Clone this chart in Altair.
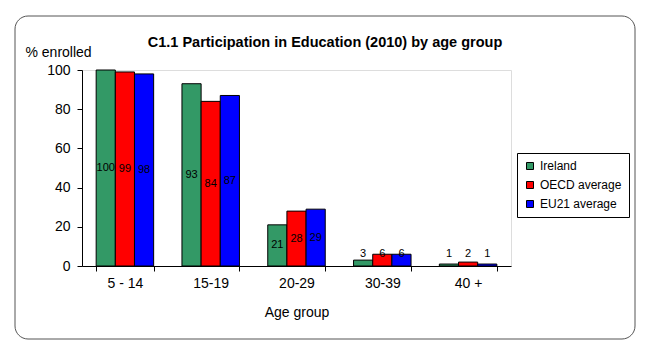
import altair as alt
import pandas as pd

age_groups = ["5 - 14", "15-19", "20-29", "30-39", "40 +"]
series_names = ["Ireland", "OECD average", "EU21  average"]
ireland = [100, 93, 21, 3, 1]
oecd = [99, 84, 28, 6, 2]
eu21 = [98, 87, 29, 6, 1]
colors = ["#339966", "#FF0000", "#0000FF"]
y_ticks = [0, 20, 40, 60, 80, 100]

rows = []
for s, vals in zip(series_names, [ireland, oecd, eu21]):
    for a, v in zip(age_groups, vals):
        rows.append({"age": a, "series": s, "value": v})
df = pd.DataFrame(rows)

FONT = "Arial, Liberation Sans, sans-serif"

x_axis = alt.Axis(labelAngle=0, tickBand="extent", labelFontSize=14,
                  titleFontSize=14, titleFontWeight="normal",
                  labelPadding=5, titlePadding=15, tickSize=5,
                  domainColor="black", tickColor="black",
                  labelColor="black", titleColor="black")
y_axis = alt.Axis(values=y_ticks, tickCount=6, grid=False,
                  labelOverlap=False, labelFlush=False,
                  labelFontSize=14, titleFontSize=14,
                  titleFontWeight="normal", titleAngle=0,
                  titleAlign="left", titleX=-57, titleY=-14,
                  titleBaseline="alphabetic", tickSize=5,
                  labelPadding=7, domainColor="black",
                  tickColor="black", labelColor="black",
                  titleColor="black")
x_scale = alt.Scale(paddingInner=0.33, paddingOuter=0.165)
y_scale = alt.Scale(domain=[0, 100], nice=False)
xoff = alt.XOffset("series:N", sort=series_names)

bars = alt.Chart(df).mark_bar(stroke="black", strokeWidth=1).encode(
    x=alt.X("age:N", sort=age_groups, title="Age group", scale=x_scale, axis=x_axis),
    xOffset=xoff,
    y=alt.Y("value:Q", scale=y_scale, title="% enrolled", axis=y_axis),
    color=alt.Color("series:N", sort=series_names,
                    scale=alt.Scale(domain=series_names, range=colors),
                    legend=alt.Legend(title=None, orient="none", legendX=435,
                                      legendY=83, symbolType="square",
                                      symbolSize=49, symbolStrokeColor="black",
                                      symbolStrokeWidth=1, labelFontSize=12,
                                      labelColor="black", strokeColor="black",
                                      fillColor="white", padding=7,
                                      rowPadding=7, labelOffset=4)),
)

labels = alt.Chart(df).transform_calculate(
    ly="max(datum.value / 2, 6)"
).mark_text(fontSize=11, color="black", baseline="middle", font=FONT).encode(
    x=alt.X("age:N", sort=age_groups, title="Age group", scale=x_scale, axis=x_axis),
    xOffset=xoff,
    y=alt.Y("ly:Q", scale=y_scale, title="% enrolled", axis=y_axis),
    text=alt.Text("value:Q"),
)

title = alt.Chart(alt.Data(values=[{"t": "C1.1 Participation in Education (2010) by age group"}])).mark_text(
    fontSize=14.5, fontWeight="bold", color="black", font=FONT, baseline="middle", align="center"
).encode(x=alt.value(243), y=alt.value(-27), text="t:N")

frame = alt.Chart(alt.Data(values=[{"a": 1}])).mark_rect(
    fill="transparent", stroke="#555555", strokeWidth=1, cornerRadius=13
).encode(x=alt.value(-67), x2=alt.value(553), y=alt.value(-54), y2=alt.value(269))

chart = alt.layer(bars, labels, title, frame).properties(
    width=429, height=196,
    autosize=alt.AutoSizeParams(type="none"),
    padding={"left": 82, "top": 70, "right": 144, "bottom": 90},
    background="white",
).configure_view(fill="#C0C0C0", stroke="transparent").configure(font=FONT)

chart.save("out.html", embed_options={"renderer": "svg", "actions": False})
